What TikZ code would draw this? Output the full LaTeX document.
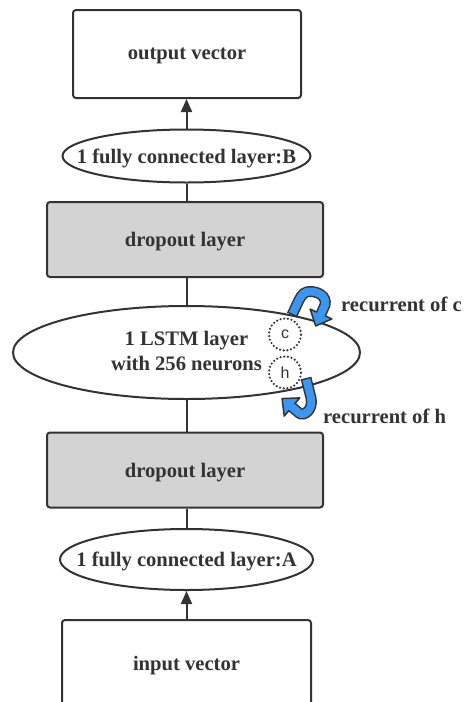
\documentclass[tikz,border=0pt]{standalone}
\usepackage{fontspec}
\setmainfont{Liberation Serif}
\newfontfamily\statefont{Liberation Sans}
\usetikzlibrary{shapes.geometric,arrows.meta}
\definecolor{ink}{HTML}{333333}
\definecolor{dropfill}{HTML}{D3D3D3}
\definecolor{loopblue}{HTML}{3A96F0}

\begin{document}
\begin{tikzpicture}[x=1pt,y=-1pt,
  every node/.style={text=ink, font=\fontsize{20.6}{25}\selectfont\bfseries},
  conn/.style={draw=ink, line width=2pt},
  arr/.style={conn, -{Triangle[length=13pt,width=11pt]}},
  iobox/.style={rectangle, draw=ink, line width=2pt, rounded corners=3pt, fill=white,
    inner sep=0pt, text depth=0pt},
  dropbox/.style={iobox, fill=dropfill, minimum width=276pt, minimum height=75pt},
  fcell/.style={ellipse, draw=ink, line width=2pt, fill=white, inner sep=0pt},
  state/.style={circle, draw=ink, line width=2.4pt, dash pattern=on 0pt off 3.7pt, line cap=round,
    minimum size=32pt, inner sep=0pt, font=\statefont\fontsize{16}{16}\selectfont},
  note/.style={anchor=base west, inner sep=0pt},
  loopedge/.style={draw=ink, line width=11pt},
  loopcore/.style={draw=loopblue, line width=8pt},
  loophead/.style={fill=loopblue, draw=ink, line width=1.5pt, line join=round}
]
\useasboundingbox (0,0) rectangle (467,702);
\fill[white] (0,0) rectangle (467,702);
\clip (0,0) rectangle (467,702);

% layer stack
\node[iobox, minimum width=228pt, minimum height=88pt] (out) at (187,54) {output vector};
\node[fcell, minimum width=248pt, minimum height=53pt, text depth=0pt] (fcB) at (186.5,156)
  {\makebox[0pt]{1 fully connected layer:B}};
\node[dropbox] (dropU) at (185,239.5) {dropout layer};
\node[fcell, minimum width=347pt, minimum height=93pt] (lstm) at (186.5,352.5)
  {\makebox[0pt]{\begin{tabular}{@{}c@{}}1 LSTM layer\\with 256 neurons\end{tabular}}};
\node[dropbox] (dropL) at (185,470) {dropout layer};
\node[fcell, minimum width=253pt, minimum height=61pt, text depth=0pt] (fcA) at (186.5,559.5)
  {\makebox[0pt]{1 fully connected layer:A}};
\node[iobox, minimum width=249pt, minimum height=86pt] (in) at (186.5,663) {input vector};

% connectors
\draw[arr] (fcB.north) -- (fcB.north |- out.south);
\draw[conn] (fcB.south) -- (fcB.south |- dropU.north);
\draw[conn] (lstm.north |- dropU.south) -- (lstm.north);
\draw[conn] (lstm.south) -- (lstm.south |- dropL.north);
\draw[conn] (fcA.north |- dropL.south) -- (fcA.north);
\draw[arr] (in.north) -- (in.north |- fcA.south);

% cell and hidden states
\node[state] (c) at (285,334.5) {c};
\node[state] (h) at (285,372.5) {h};

% recurrent loop of c
\draw[loopedge] (292,315) -- (299,300) .. controls (302,294) and (305,291.5) .. (310,291.5)
  .. controls (318,291.5) and (327,296) .. (325,305) -- (321,314);
\filldraw[loophead] (331.9,318.9) -- (315.7,325.9) -- (310.1,309.1) -- cycle;
\draw[loopcore] (292.6,313.6) -- (299,300) .. controls (302,294) and (305,291.5) .. (310,291.5)
  .. controls (318,291.5) and (327,296) .. (325,305) -- (320,316.3);

% recurrent loop of h
\draw[loopedge] (306,378) -- (311,398) .. controls (313.5,410) and (303.6,416.9) .. (299,413)
  -- (292,407);
\filldraw[loophead] (299.8,397.9) -- (282.1,398.55) -- (284.2,416.1) -- cycle;
\draw[loopcore] (306.4,379.5) -- (311,398) .. controls (313.5,410) and (303.6,416.9) .. (299,413)
  -- (290.1,405.4);

\node[note] (rc) at (341,311.5) {recurrent of c};
\node[note] (rh) at (323,423) {recurrent of h};
\end{tikzpicture}
\end{document}
